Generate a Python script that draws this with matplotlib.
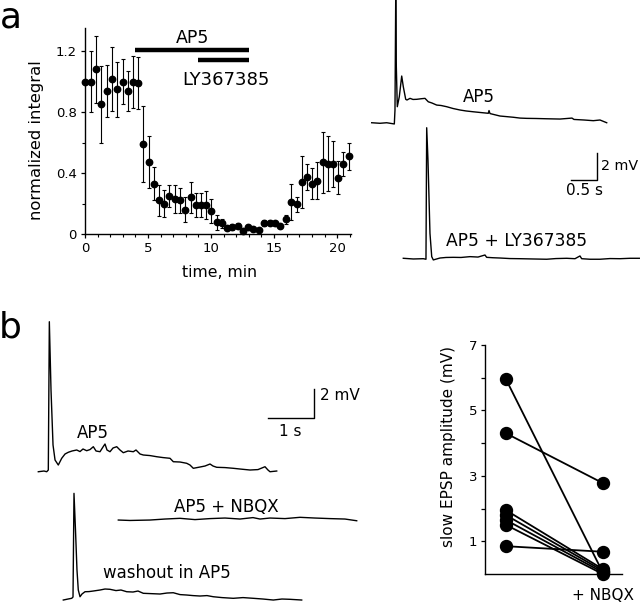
import matplotlib
matplotlib.use("Agg")
import matplotlib.pyplot as plt
from matplotlib.ticker import MultipleLocator, FixedLocator

plt.rcParams['font.family'] = ['DejaVu Sans']

# ---------------- Panel a: time course ----------------
time_min = [0, 0.45, 0.87, 1.27, 1.72, 2.14, 2.57, 2.99, 3.39, 3.84, 4.23,
            4.63, 5.05, 5.45, 5.9, 6.3, 6.7, 7.1, 7.5, 7.96, 8.39, 8.8, 9.2,
            9.6, 10.03, 10.45, 10.9, 11.3, 11.7, 12.1, 12.5, 12.96, 13.36,
            13.8, 14.2, 14.68, 15.1, 15.5, 15.95, 16.35, 16.8, 17.2, 17.6,
            18.0, 18.44, 18.86, 19.3, 19.7, 20.1, 20.5, 20.95]
norm_integral = [1.0, 1.0, 1.08, 0.85, 0.94, 1.02, 0.95, 1.0, 0.94, 1.0, 0.99,
                 0.59, 0.47, 0.33, 0.22, 0.20, 0.25, 0.23, 0.22, 0.16, 0.24,
                 0.19, 0.19, 0.19, 0.15, 0.077, 0.07, 0.04, 0.044, 0.05, 0.022,
                 0.044, 0.033, 0.026, 0.074, 0.074, 0.07, 0.052, 0.096, 0.21,
                 0.195, 0.34, 0.376, 0.33, 0.35, 0.47, 0.46, 0.46, 0.37, 0.46,
                 0.51]
norm_err = [0.0, 0.2, 0.22, 0.25, 0.17, 0.21, 0.18, 0.15, 0.13, 0.17, 0.17,
            0.25, 0.17, 0.11, 0.1, 0.09, 0.07, 0.09, 0.08, 0.08, 0.1, 0.08,
            0.08, 0.09, 0.08, 0.05, 0.03, 0.015, 0.02, 0.02, 0.015, 0.015,
            0.012, 0.012, 0.02, 0.015, 0.015, 0.015, 0.03, 0.12, 0.05, 0.17,
            0.085, 0.1, 0.12, 0.2, 0.18, 0.15, 0.11, 0.08, 0.09]
ap5_period = [4, 13]
ly_period = [9, 13]

# ---------------- Panel a: traces (s, mV relative to baseline) ----------------
a_ap5_t = [0, 0.162, 0.292, 0.441, 0.454, 0.468, 0.480, 0.499, 0.538, 0.585,
           0.616, 0.663, 0.688, 0.747, 0.805, 0.877, 0.961, 1.039, 1.103,
           1.175, 1.267, 1.351, 1.462, 1.585, 1.721, 1.838, 1.981, 2.111,
           2.273, 2.287, 2.306, 2.501, 2.618, 2.760, 2.891, 3.021, 3.203,
           3.411, 3.671, 3.904, 3.943, 4.138, 4.320, 4.450, 4.581]
a_ap5_v = [0.02, -0.02, 0.02, -0.07, 0.95, 9.0, 4.11, 1.19, 1.92, 3.43,
           2.65, 1.73, 1.68, 1.80, 1.72, 1.73, 1.77, 1.80, 1.55, 1.46, 1.31,
           1.28, 1.19, 1.06, 0.95, 0.88, 0.82, 0.77, 0.71, 0.91, 0.69, 0.51,
           0.47, 0.42, 0.36, 0.34, 0.33, 0.31, 0.29, 0.36, 0.26, 0.22, 0.17,
           0.22, 0.02]
a_ly_t = [0, 0.195, 0.390, 0.442, 0.456, 0.481, 0.520, 0.554, 0.585, 0.715,
          0.832, 0.975, 1.125, 1.300, 1.456, 1.592, 1.625, 1.748, 1.884,
          2.079, 2.274, 2.528, 2.795, 2.976, 3.185, 3.347, 3.444, 3.477,
          3.639, 3.834, 4.029, 4.224, 4.419, 4.600]
a_ly_v = [0.03, -0.02, 0, -0.04, 9.56, 7.2, 1.85, 0.15, -0.09, 0.05, 0.09,
          0.10, 0.09, 0.15, 0.12, 0.27, 0.10, 0.07, 0.05, 0.01, 0, -0.02,
          -0.04, 0.01, 0.03, 0, 0.2, 0, -0.04, -0.04, 0.01, 0, 0.03, 0.03]

# ---------------- Panel b: traces ----------------
b_ap5_t = [0, 0.122, 0.180, 0.214, 0.236, 0.272, 0.315, 0.358, 0.428, 0.501,
           0.572, 0.642, 0.722, 0.822, 0.893, 0.957, 1.036, 1.107, 1.178,
           1.236, 1.321, 1.385, 1.428, 1.471, 1.535, 1.600, 1.679, 1.749,
           1.820, 1.921, 2.034, 2.092, 2.178, 2.248, 2.392, 2.535, 2.670,
           2.820, 2.891, 3.034, 3.178, 3.248, 3.319, 3.463, 3.570, 3.677,
           3.741, 3.820, 3.998, 4.176, 4.319, 4.533, 4.704, 4.854, 4.918,
           4.961, 5.105]
b_ap5_v = [0, 0.05, 0, 0.12, 10.49, 5.71, 1.87, 0.82, 0.47, 0.94, 1.24, 1.36,
           1.45, 1.52, 1.41, 1.59, 1.47, 1.55, 1.75, 1.45, 1.40, 1.73, 1.94,
           1.52, 1.40, 1.66, 1.75, 1.52, 1.33, 1.45, 1.40, 1.52, 1.24, 1.17,
           1.13, 1.05, 0.99, 0.94, 0.70, 0.68, 0.59, 0.47, 0.24, 0.33, 0.40,
           0.54, 0.40, 0.31, 0.29, 0.24, 0.19, 0.12, 0.15, 0.35, 0.12, 0,
           0.05]
b_nbqx_t = [0, 0.25, 0.678, 0.999, 1.321, 1.642, 1.963, 2.284, 2.605, 2.884,
            3.034, 3.248, 3.569, 3.891, 4.212, 4.533, 4.854, 5.105]
b_nbqx_v = [0, -0.03, 0, 0.07, 0.12, 0.03, 0.10, 0.14, 0.07, 0.17, 0.07,
            0.14, 0.10, 0.19, 0.14, 0.10, 0.07, -0.05]
b_wash_t = [0, 0.101, 0.180, 0.208, 0.229, 0.261, 0.293, 0.321, 0.358, 0.400,
            0.465, 0.550, 0.642, 0.786, 0.893, 0.999, 1.128, 1.235, 1.358,
            1.493, 1.600, 1.713, 1.857, 2.071, 2.221, 2.355, 2.499, 2.642,
            2.777, 2.927, 3.077, 3.212, 3.398, 3.640, 3.848, 4.069, 4.276,
            4.497, 4.683, 4.854, 5.105]
b_wash_v = [0, 0.07, 0.12, 0.21, 7.46, 4.90, 2.10, 0.70, 0.23, 0.42, 0.58,
            0.59, 0.63, 0.70, 0.77, 0.75, 0.66, 0.70, 0.58, 0.56, 0.63, 0.47,
            0.45, 0.42, 0.49, 0.51, 0.38, 0.35, 0.31, 0.28, 0.31, 0.23, 0.17,
            0.12, 0.17, 0.12, 0.07, 0, 0.07, 0.05, 0]

# ---------------- Panel b: paired amplitudes ----------------
amp_before = [5.95, 4.3, 1.95, 1.8, 1.65, 1.5, 0.85]
amp_nbqx = [0.05, 2.78, 0.15, 0.1, 0.05, 0.0, 0.68]
pair_ticklabels = ['', '+ NBQX']

W, H = 640, 605
fig = plt.figure(figsize=(W / 100, H / 100), dpi=100)


def fx(px):
    return px / W


def fy(py):
    return 1 - py / H


TRACE_LW = 1.0
TXT = 12

# ======== Panel a scatter ========
ax = fig.add_axes([fx(85), fy(234), fx(351) - fx(85), fy(28) - fy(234)])
ax.errorbar(time_min, norm_integral, yerr=norm_err, fmt='o', color='black',
            ms=4.6, elinewidth=0.8, capsize=1.6, capthick=0.8, clip_on=False,
            zorder=3)
ax.set_xlim(0, 21.1)
ax.set_ylim(0, 1.352)
for s in ['top', 'right']:
    ax.spines[s].set_visible(False)
for s in ['left', 'bottom']:
    ax.spines[s].set_linewidth(1.0)
ax.xaxis.set_major_locator(FixedLocator([0, 5, 10, 15, 20]))
ax.xaxis.set_minor_locator(MultipleLocator(1))
ax.yaxis.set_major_locator(FixedLocator([0, 0.4, 0.8, 1.2]))
ax.yaxis.set_minor_locator(FixedLocator([0.2, 0.6, 1.0]))
ax.set_yticklabels(['0', '0.4', '0.8', '1.2'])
ax.tick_params(which='major', direction='out', length=3.2, width=0.9,
               labelsize=9.5, pad=2.8)
ax.tick_params(which='minor', direction='out', length=2, width=0.8)
ax.hlines(1.208, ap5_period[0], ap5_period[1], color='black', lw=3.2,
          clip_on=False)
ax.hlines(1.14, ly_period[0], ly_period[1], color='black', lw=3.2,
          clip_on=False)
fig.text(fx(193), fy(38), 'AP5', ha='center', va='center', fontsize=12.5)
fig.text(fx(226), fy(80), 'LY367385', ha='center', va='center', fontsize=13)
fig.text(fx(37), fy(140), 'normalized integral', rotation=90, ha='center',
         va='center', fontsize=11.8)
fig.text(fx(220), fy(273), 'time, min', ha='center', va='center',
         fontsize=11.3)

# ======== Panel a traces ========
axt = fig.add_axes([fx(360), fy(290), fx(640) - fx(360), fy(0) - fy(290)])
axt.set_xlim(-0.228, 5.230)
axt.set_ylim(-12.19, 8.98)
axt.axis('off')
a_ly_offset = (0.616, -9.905)
axt.plot(a_ap5_t, a_ap5_v, color='black', lw=TRACE_LW)
axt.plot([t + a_ly_offset[0] for t in a_ly_t],
         [v + a_ly_offset[1] for v in a_ly_v], color='black', lw=TRACE_LW)
# scale bar 0.5 s / 2 mV
sb_a = (4.386, -4.161)
axt.plot([sb_a[0] - 0.5, sb_a[0], sb_a[0]], [sb_a[1], sb_a[1], sb_a[1] + 2],
         color='black', lw=1.0)
fig.text(fx(601), fy(166), '2 mV', ha='left', va='center', fontsize=10.3)
fig.text(fx(585), fy(190), '0.5 s', ha='center', va='center', fontsize=11)
fig.text(fx(479), fy(97), 'AP5', ha='center', va='center', fontsize=TXT)
fig.text(fx(517), fy(240.5), 'AP5 + LY367385', ha='center', va='center',
         fontsize=12.3)

# ======== Panel b traces ========
axb = fig.add_axes([fx(30), fy(605), fx(400) - fx(30), fy(300) - fy(605)])
axb.set_xlim(-0.178, 7.745)
axb.set_ylim(-9.32, 12.01)
axb.axis('off')
nbqx_offset = (1.713, -3.378)
wash_offset = (0.535, -8.972)
axb.plot(b_ap5_t, b_ap5_v, color='black', lw=TRACE_LW)
axb.plot([t + nbqx_offset[0] for t in b_nbqx_t],
         [v + nbqx_offset[1] for v in b_nbqx_v], color='black', lw=TRACE_LW)
axb.plot([t + wash_offset[0] for t in b_wash_t],
         [v + wash_offset[1] for v in b_wash_v], color='black', lw=TRACE_LW)
sb_b = (5.91, 3.78)
axb.plot([sb_b[0] - 1.0, sb_b[0], sb_b[0]], [sb_b[1], sb_b[1], sb_b[1] + 2],
         color='black', lw=1.0)
fig.text(fx(320), fy(395), '2 mV', ha='left', va='center', fontsize=11)
fig.text(fx(290), fy(432), '1 s', ha='center', va='center', fontsize=11)
fig.text(fx(93), fy(432.5), 'AP5', ha='center', va='center', fontsize=TXT)
fig.text(fx(226.7), fy(506.7), 'AP5 + NBQX', ha='center', va='center',
         fontsize=TXT)
fig.text(fx(166.7), fy(572.5), 'washout in AP5', ha='center', va='center',
         fontsize=TXT)

# ======== Panel b paired plot ========
axp = fig.add_axes([fx(485), fy(574), fx(621.7) - fx(485), fy(345) - fy(574)])
for b, a in zip(amp_before, amp_nbqx):
    axp.plot([0, 1], [b, a], color='black', lw=1.3, marker='o', ms=8.6,
             clip_on=False, zorder=3)
axp.set_xlim(-0.217, 1.196)
axp.set_ylim(0, 7)
for s in ['top', 'right']:
    axp.spines[s].set_visible(False)
for s in ['left', 'bottom']:
    axp.spines[s].set_linewidth(1.0)
axp.yaxis.set_major_locator(FixedLocator([1, 3, 5, 7]))
axp.yaxis.set_minor_locator(FixedLocator([2, 4, 6]))
axp.tick_params(axis='y', which='major', direction='out', length=3.2,
                width=0.9, labelsize=9.5, pad=2.5)
axp.tick_params(axis='y', which='minor', direction='out', length=3.2,
                width=0.9)
axp.set_xticks([0, 1])
axp.set_xticklabels(pair_ticklabels)
axp.tick_params(axis='x', length=0, labelsize=11, pad=10)
fig.text(fx(448), fy(446.7), 'slow EPSP amplitude (mV)', rotation=90,
         ha='center', va='center', fontsize=11)

# panel letters
fig.text(fx(0), fy(1), 'a', ha='left', va='top', fontsize=26)
fig.text(fx(-1), fy(311), 'b', ha='left', va='top', fontsize=26)

fig.savefig('out.png', dpi=100)
